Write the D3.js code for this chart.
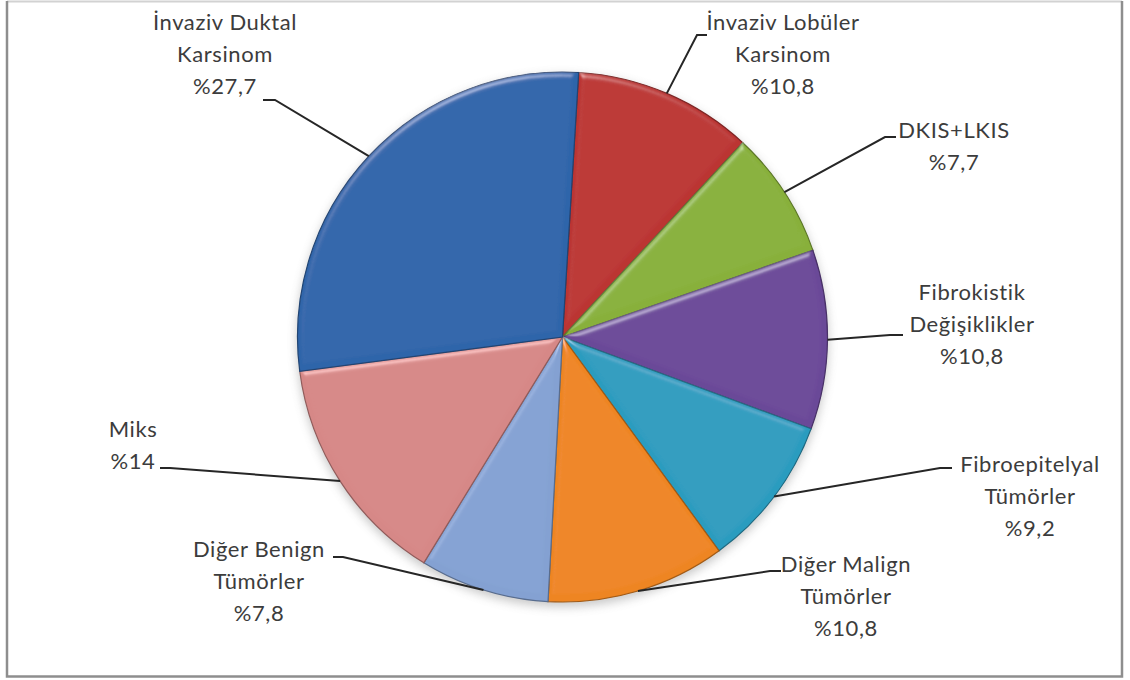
<!DOCTYPE html>
<html>
<head>
<meta charset="utf-8">
<script src="https://cdn.jsdelivr.net/npm/d3@7"></script>
<style>
  html, body { margin: 0; padding: 0; background: #ffffff; }
  svg { display: block; }
  .lbl { font-family: Lato, "Open Sans", sans-serif; font-size: 22px; letter-spacing: 0.6px; fill: #3c3c3c; }
</style>
</head>
<body>
<svg id="chart" width="1130" height="680"></svg>
<script>
// Pathology categories, listed clockwise from the top of the pie
const categories = [
  "İnvaziv Lobüler Karsinom",
  "DKIS+LKIS",
  "Fibrokistik Değişiklikler",
  "Fibroepitelyal Tümörler",
  "Diğer Malign Tümörler",
  "Diğer Benign Tümörler",
  "Miks",
  "İnvaziv Duktal Karsinom"
];
// Share of cases, percent
const values = [10.8, 7.7, 10.8, 9.2, 10.8, 7.8, 14, 27.7];
// Label text broken into lines as printed
const labelLines = [
  ["İnvaziv Lobüler", "Karsinom"],
  ["DKIS+LKIS"],
  ["Fibrokistik", "Değişiklikler"],
  ["Fibroepitelyal", "Tümörler"],
  ["Diğer Malign", "Tümörler"],
  ["Diğer Benign", "Tümörler"],
  ["Miks"],
  ["İnvaziv Duktal", "Karsinom"]
];
const colors = ["#bb3432", "#88b03a", "#6b4898", "#2c9cbf", "#ee8520", "#84a1d2", "#d68887", "#2f65aa"];

// Label placement: text centre, first baseline, and the short horizontal leader stub
const labelLayout = [
  { x: 783,  y: 30,  stub: [707, 35, 697, 35] },
  { x: 954,  y: 138, stub: [896, 137, 885, 137] },
  { x: 972,  y: 300, stub: [903, 335, 890, 335] },
  { x: 1030, y: 472, stub: [952, 468, 940, 468] },
  { x: 846,  y: 572, stub: [781, 571, 770, 571] },
  { x: 259,  y: 557, stub: [333, 557, 343, 557] },
  { x: 133,  y: 437, stub: [160, 468, 170, 468] },
  { x: 225,  y: 30,  stub: [263, 100, 275, 100] }
];
const lineGap = 32;

const svg = d3.select("#chart");
const cx = 562.5, cy = 337, r = 265;

// Frame
svg.append("line").attr("x1", 7).attr("y1", 1.5).attr("x2", 1122).attr("y2", 1.5)
  .attr("stroke", "#d2d2d2").attr("stroke-width", 2);
svg.append("path").attr("d", "M7,1 V676.5 H1122 V1")
  .attr("fill", "none").attr("stroke", "#8e8e8e").attr("stroke-width", 2.5);

const defs = svg.append("defs");
const bevel = defs.append("filter").attr("id", "bevel")
  .attr("x", "-10%").attr("y", "-10%").attr("width", "120%").attr("height", "120%");
bevel.append("feGaussianBlur").attr("in", "SourceAlpha").attr("stdDeviation", 3).attr("result", "b");
const spec = bevel.append("feSpecularLighting").attr("in", "b").attr("surfaceScale", 3)
  .attr("specularConstant", 0.5).attr("specularExponent", 45)
  .attr("lighting-color", "#ffffff").attr("result", "s");
spec.append("feDistantLight").attr("azimuth", 250).attr("elevation", 45);
bevel.append("feComposite").attr("in", "s").attr("in2", "SourceAlpha").attr("operator", "in").attr("result", "s2");
bevel.append("feComposite").attr("in", "SourceGraphic").attr("in2", "s2")
  .attr("operator", "arithmetic").attr("k1", 0).attr("k2", 1).attr("k3", 0.55).attr("k4", 0);

const shadow = defs.append("filter").attr("id", "shadow")
  .attr("x", "-20%").attr("y", "-20%").attr("width", "140%").attr("height", "140%");
shadow.append("feGaussianBlur").attr("stdDeviation", 5);

const pie = d3.pie().sort(null).value(d => d)
  .startAngle(3.5 * Math.PI / 180).endAngle(3.5 * Math.PI / 180 + 2 * Math.PI);
const arcs = pie(values);
const arc = d3.arc().innerRadius(0).outerRadius(r);

const g = svg.append("g").attr("transform", `translate(${cx},${cy})`);

// soft shadow under the pie
g.append("circle").attr("cx", 0).attr("cy", 4).attr("r", r + 1)
  .attr("fill", "#8a8a8a").attr("opacity", 0.45).attr("filter", "url(#shadow)");

g.selectAll("path.slice").data(arcs).join("path")
  .attr("class", "slice")
  .attr("d", arc)
  .attr("fill", (d, i) => colors[i])
  .attr("stroke", (d, i) => d3.color(colors[i]).darker(1.1))
  .attr("stroke-width", 1.2)
  .attr("filter", "url(#bevel)");

// Leader lines: label stub, then a straight run to the rim at the slice's mid-angle
const leaders = svg.append("g");
arcs.forEach((d, i) => {
  const a = (d.startAngle + d.endAngle) / 2;
  const ex = cx + r * Math.sin(a), ey = cy - r * Math.cos(a);
  const s = labelLayout[i].stub;
  leaders.append("path")
    .attr("d", `M${s[0]},${s[1]} L${s[2]},${s[3]} L${ex},${ey}`)
    .attr("fill", "none").attr("stroke", "#262626").attr("stroke-width", 2);
});

// Labels
const fmt = v => "%" + String(v).replace(".", ",");
const labels = svg.append("g");
arcs.forEach((d, i) => {
  const L = labelLayout[i];
  const lines = labelLines[i].concat([fmt(values[i])]);
  const t = labels.append("text").attr("class", "lbl").attr("text-anchor", "middle");
  lines.forEach((ln, k) => {
    t.append("tspan").attr("x", L.x).attr("y", L.y + k * lineGap).text(ln);
  });
});
</script>
</body>
</html>
